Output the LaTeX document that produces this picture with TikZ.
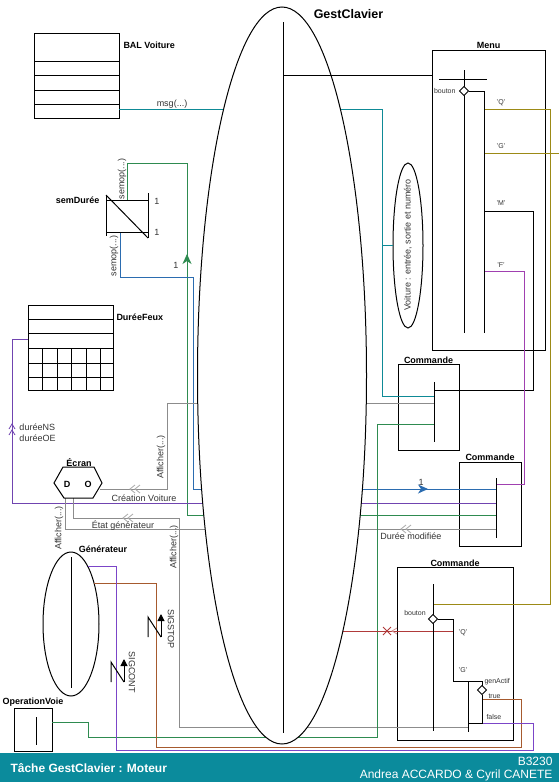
\documentclass[tikz,border=0pt]{standalone}
\usepackage{fontspec}
\setmainfont{Liberation Sans}
\usetikzlibrary{arrows.meta,shapes.geometric}
\definecolor{cteal}{HTML}{0E8A96}
\definecolor{colive}{HTML}{9C8A16}
\definecolor{cgreen}{HTML}{2E8B50}
\definecolor{cblue}{HTML}{2B6CB0}
\definecolor{cpurple}{HTML}{7044B0}
\definecolor{cmagenta}{HTML}{A040B0}
\definecolor{cviolet}{HTML}{7B45C8}
\definecolor{cbrown}{HTML}{A65A2E}
\definecolor{cred}{HTML}{B03A3A}
\definecolor{cgray}{HTML}{8C8C8C}
\definecolor{clgray}{HTML}{AAAAAA}
\definecolor{cband}{HTML}{0B8B9C}
\definecolor{ctext}{HTML}{333333}
\begin{document}
\begin{tikzpicture}[x=1pt,y=-1pt,line width=1pt,
  box/.style={draw,line width=1pt,inner sep=0pt},
  ttl/.style={font=\bfseries\fontsize{9}{10}\selectfont,inner sep=0pt},
  lbl/.style={font=\fontsize{9}{10}\selectfont,text=ctext,inner sep=0pt},
  sml/.style={font=\fontsize{7}{8}\selectfont,text=ctext,inner sep=0pt},
  wire/.style={line width=0.9pt},
  chev/.style={line width=0.8pt}]
\useasboundingbox (0,0) rectangle (559,782);

% ---------- shapes (nodes) ----------
\node[box,minimum width=85pt,minimum height=85pt] (bal) at (76.5,75.5) {};
\node[box,minimum width=85pt,minimum height=85pt] (feux) at (70.5,347.5) {};
\node[box,minimum width=113pt,minimum height=300pt] (menu) at (488.5,200) {};
\node[box,minimum width=61pt,minimum height=86pt] (cmd1) at (428.5,407) {};
\node[box,minimum width=62pt,minimum height=84pt] (cmd2) at (490,504) {};
\node[box,minimum width=116pt,minimum height=173pt] (cmd3) at (455,653.5) {};
\node[box,minimum width=38pt,minimum height=43pt] (opv) at (33,729.5) {};
\node[draw,ellipse,minimum width=30pt,minimum height=165pt,inner sep=0pt] (voit) at (408,245.5) {};
\node[draw,ellipse,minimum width=56pt,minimum height=144pt,inner sep=0pt] (gen) at (71,624) {};
\node[inner sep=0pt,minimum width=42pt,minimum height=40pt] (sem) at (127,216) {};
\node[inner sep=0pt,minimum width=48pt,minimum height=31pt] (ecran) at (78,482.5) {};

% ---------- ports ----------
\coordinate (balR) at (119,109);
\coordinate (c1teal) at (434,396);
\coordinate (voitL) at (393,245);
\coordinate (semT) at (127,200);
\coordinate (semB) at (120,232);
\coordinate (c2green) at (496,515);
\coordinate (c2blue) at (496,489);
\coordinate (c2purple) at (496,503);
\coordinate (c2gray) at (496,529);
\coordinate (c2F) at (496,484);
\coordinate (feuxL) at (28,339);
\coordinate (ecR) at (100,489);
\coordinate (ecB1) at (73,498);
\coordinate (ecB2) at (65,498);
\coordinate (c1gray) at (434,403);
\coordinate (c1green) at (434,424);
\coordinate (c1M) at (434,390);
\coordinate (c3gray) at (468,727);
\coordinate (opvR) at (52,722);
\coordinate (genP) at (88,566);
\coordinate (genB) at (94,583);
\coordinate (c3true) at (482,699);
\coordinate (c3false) at (482,723);
\coordinate (c3Q) at (453,631);
\coordinate (c3top) at (433,604);
\coordinate (mQ) at (484,109);
\coordinate (mG) at (484,153);
\coordinate (mM) at (484,211);
\coordinate (mF) at (484,271);
\coordinate (gestC) at (283,631);

% ---------- connectors ----------
\draw[wire,cteal] (balR) -- (382,109) -- (382,396) -- (c1teal);
\draw[wire,cteal] (382,245) -- (voitL);
\draw[wire,cgreen] (semT) -- (127,163) -- (187,163) -- (187,515) -- (c2green);
\draw[wire,cblue] (semB) -- (120,277) -- (193,277) -- (193,489) -- (c2blue);
\draw[wire,cpurple] (feuxL) -- (12,339) -- (12,503) -- (c2purple);
\draw[wire,cgray] (ecR) -- (167,489) -- (167,403) -- (c1gray);
\draw[wire,cgray] (ecB1) -- (73,518) -- (179,518) -- (179,727) -- (c3gray);
\draw[wire,cgray] (ecB2) -- (65,529) -- (c2gray);
\draw[wire,cgreen] (opvR) -- (88,722) -- (88,737) -- (377,737) -- (377,424) -- (c1green);
\draw[wire,cbrown] (genB) -- (156,583) -- (156,747) -- (521,747) -- (521,699) -- (c3true);
\draw[wire,cviolet] (genP) -- (116,566) -- (116,750) -- (533,750) -- (533,723) -- (c3false);
\draw[wire,cred] (c3Q) -- (gestC);
\draw[wire,colive] (c3top) -- (550,604) -- (550,109) -- (mQ);
\draw[wire,colive] (mG) -- (559,153);
\draw[wire] (mM) -- (533,211) -- (533,390) -- (c1M);
\draw[wire,cmagenta] (mF) -- (524,271) -- (524,484) -- (c2F);

% arrow heads and marks on connectors
\draw[cgreen,line width=0.9pt,-{Stealth[length=10pt,width=9pt,inset=3pt]}] (187,274) -- (187,254);
\draw[cblue,line width=0.9pt,-{Stealth[length=10pt,width=9pt,inset=3pt]}] (408,489) -- (428,489);
\draw[clgray,chev] (135,485) -- (130,489) -- (135,493) (140,485) -- (135,489) -- (140,493);
\draw[clgray,chev] (128,514) -- (123,518) -- (128,522) (133,514) -- (128,518) -- (133,522);
\draw[clgray,chev] (406,525) -- (401,529) -- (406,533) (411,525) -- (406,529) -- (411,533);
\draw[cpurple,chev] (9,429) -- (12,424) -- (15,429) (9,435) -- (12,430) -- (15,435);
\draw[cred,line width=0.9pt] (383,627) -- (391,635) (383,635) -- (391,627);
\draw[cred!55,chev] (397,628) -- (392,631) -- (397,634);

% ---------- GestClavier ----------
\node[draw,ellipse,fill=white,minimum width=169pt,minimum height=737pt,inner sep=0pt] (gest) at (282,375.5) {};
\draw (283,22) -- (283,733);
\draw (283,75) -- (432,75);
\node[font=\bfseries\fontsize{12.5}{14}\selectfont,inner sep=0pt] at (348.5,14) {GestClavier};

% ---------- BAL Voiture ----------
\draw (34,61) -- (119,61) (34,75) -- (119,75) (34,90) -- (119,90) (34,104) -- (119,104);
\node[ttl,anchor=west] at (123,45) {BAL Voiture};
\node[lbl] at (172,104) {msg(...)};

% ---------- semDurée ----------
\draw (106,200) -- (148,200);
\draw (106,232) -- (148,232);
\draw (106,195) -- (106,236);
\draw (148,193) -- (148,238);
\draw (106,195) -- (148,238);
\node[ttl,anchor=east] at (100,200) {semDurée};
\node[lbl] at (157,201) {1};
\node[lbl] at (157,232) {1};
\node[lbl,rotate=90] at (122,179) {semop(...)};
\node[lbl,rotate=90] at (114,256) {semop(...)};
\node[lbl] at (176,265) {1};

% ---------- DuréeFeux ----------
\draw (28,319) -- (113,319) (28,333) -- (113,333) (28,348) -- (113,348) (28,363) -- (113,363) (28,377) -- (113,377);
\foreach \xx in {42,57,71,86,100} \draw (\xx,348) -- (\xx,390);
\node[ttl,anchor=west] at (116,317) {DuréeFeux};
\node[lbl,anchor=west] at (19,427) {duréeNS};
\node[lbl,anchor=west] at (19,438) {duréeOE};

% ---------- Écran ----------
\draw (54,483) -- (63,467) -- (94,467) -- (102,483) -- (93,498) -- (64,498) -- cycle;
\node[ttl] at (79,463) {Écran};
\node[ttl] at (67,484) {D};
\node[ttl] at (88,484) {O};
\node[lbl] at (144,498) {Création Voiture};
\node[lbl] at (123,526) {État générateur};
\node[lbl] at (411,536) {Durée modifiée};
\node[lbl,rotate=90] at (161,457) {Afficher(...)};
\node[lbl,rotate=90] at (59,528) {Afficher(...)};
\node[lbl,rotate=90] at (174,547) {Afficher(...)};
\node[lbl] at (421,482) {1};

% ---------- Générateur / OperationVoie ----------
\draw (71,557) -- (71,688);
\node[ttl] at (103,549) {Générateur};
\draw (36,717) -- (36,745);
\node[ttl] at (33,702) {OperationVoie};
% signals
\draw (148,637) -- (148,617) -- (161,637);
\draw[-{Triangle[length=7pt,width=7pt]}] (161,637) -- (161,614);
\node[lbl,rotate=-90] at (171,629) {SIGSTOP};
\draw (111,682) -- (111,662) -- (124,682);
\draw[-{Triangle[length=7pt,width=7pt]}] (124,682) -- (124,659);
\node[lbl,rotate=-90] at (132,672) {SIGCONT};

% ---------- Voiture ----------
\node[lbl,rotate=90] at (408,245) {Voiture : entrée, sortie et numéro};

% ---------- Menu ----------
\node[ttl] at (488.5,45) {Menu};
\draw (439,79) -- (487,79);
\draw (464,70) -- (464,87);
\draw (464,95) -- (464,333);
\draw (468.5,91) -- (484,91) -- (484,333);
\draw[fill=white] (464,86.5) -- (468.5,91) -- (464,95.5) -- (459.5,91) -- cycle;
\node[sml,anchor=east] at (456,91) {bouton};
\node[sml] at (501,103) {'Q'};
\node[sml] at (501,146) {'G'};
\node[sml] at (501,203) {'M'};
\node[sml] at (501,265) {'F'};

% ---------- Commandes ----------
\node[ttl] at (428.5,360) {Commande};
\draw (434,382) -- (434,442);
\node[ttl] at (490,457) {Commande};
\draw (496,478) -- (496,538);
\node[ttl] at (455,563) {Commande};
\draw (433,584) -- (433,731);
\draw (437.5,619) -- (453,619) -- (453,681) -- (482,681) -- (482,686);
\draw (468,681) -- (468,732);
\draw (482,695) -- (482,723) -- (468,723);
\draw[fill=white] (433,614.5) -- (437.5,619) -- (433,623.5) -- (428.5,619) -- cycle;
\draw[fill=white] (482,685.5) -- (486.5,690) -- (482,694.5) -- (477.5,690) -- cycle;
\node[sml] at (415,613) {bouton};
\node[sml] at (463,633) {'Q'};
\node[sml] at (463,670) {'G'};
\node[sml,anchor=west] at (484,682) {genActif};
\node[sml,anchor=west] at (488,696) {true};
\node[sml,anchor=west] at (486,717) {false};

% ---------- footer ----------
\fill[cband] (0,753) rectangle (559,782);
\node[font=\bfseries\fontsize{12}{14}\selectfont,text=white,anchor=west,inner sep=0pt] at (10,768) {Tâche GestClavier : Moteur};
\node[font=\fontsize{12}{14}\selectfont,text=white,anchor=east,inner sep=0pt] at (553,761) {B3230};
\node[font=\fontsize{12}{14}\selectfont,text=white,anchor=east,inner sep=0pt] at (553,775) {Andrea ACCARDO \& Cyril CANETE};
\end{tikzpicture}
\end{document}
